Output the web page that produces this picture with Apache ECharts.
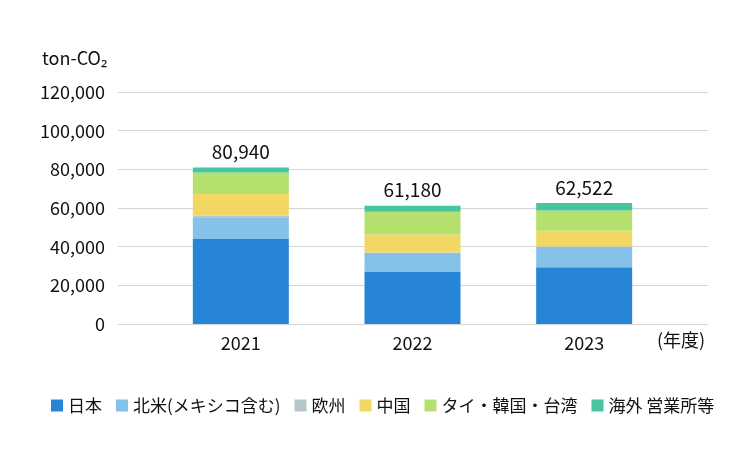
<!DOCTYPE html>
<html>
<head>
<meta charset="utf-8">
<script src="https://cdn.jsdelivr.net/npm/echarts@6/dist/echarts.min.js"></script>
<style>html,body{margin:0;padding:0;background:#fff}#c{width:740px;height:460px}</style>
</head>
<body>
<div id="c"></div>
<script>
var categories = ['2021', '2022', '2023'];
var japan = [44000, 27100, 29300];
var northAmerica = [11200, 9800, 10700];
var europe = [900, 100, 100];
var china = [11200, 9300, 8100];
var asia = [11000, 11800, 10500];
var overseas = [2640, 3080, 3822];
var totals = [80940, 61180, 62522];
var seriesNames = ['日本', '北米(メキシコ含む)', '欧州', '中国', 'タイ・韓国・台湾', '海外 営業所等'];
var yTicks = [0, 20000, 40000, 60000, 80000, 100000, 120000];

var FONT = '"Noto Sans CJK JP", "Noto Sans", sans-serif';
var colors = ['#2785d8', '#85c1e8', '#b4c7cb', '#f2d862', '#b5e06e', '#46c59e'];
var seriesData = [japan, northAmerica, europe, china, asia, overseas];

function fmt(v) { return v.toLocaleString('en-US'); }

var series = seriesData.map(function (d, i) {
  var s = {
    name: seriesNames[i],
    type: 'bar',
    stack: 'total',
    xAxisIndex: 1,
    yAxisIndex: 1,
    barWidth: 96,
    data: d,
    itemStyle: { color: colors[i] },
    emphasis: { disabled: true }
  };
  if (i === seriesData.length - 1) {
    s.label = {
      show: true,
      position: 'top',
      distance: 6,
      fontSize: 19,
      fontFamily: FONT,
      color: '#111',
      formatter: function (p) { return fmt(totals[p.dataIndex]); }
    };
  }
  return s;
});

var chart = echarts.init(document.getElementById('c'), null, { renderer: 'canvas' });
chart.setOption({
  animation: false,
  backgroundColor: '#fff',
  title: {
    text: 'ton-CO₂',
    left: 37,
    top: 44,
    textStyle: { fontFamily: FONT, fontSize: 18, fontWeight: 'normal', color: '#111' }
  },
  legend: {
    data: seriesNames,
    left: 46,
    top: 392,
    itemWidth: 12,
    itemHeight: 12,
    itemGap: 14,
    icon: 'rect',
    textStyle: { fontFamily: FONT, fontSize: 17, color: '#111' }
  },
  graphic: [{
    type: 'text',
    left: 657,
    top: 331,
    style: { text: '(年度)', fontFamily: FONT, fontSize: 18, fill: '#111' }
  }],
  grid: [
    { left: 118, right: 32, top: 92, height: 232 },
    { left: 155, width: 515, top: 92, height: 232 }
  ],
  xAxis: [
    { type: 'category', gridIndex: 0, data: [''], show: false },
    {
      type: 'category', gridIndex: 1, data: categories,
      axisLine: { show: false }, axisTick: { show: false },
      axisLabel: { fontFamily: FONT, fontSize: 18, color: '#111', margin: 10 }
    }
  ],
  yAxis: [
    {
      type: 'value', gridIndex: 0, min: yTicks[0], max: yTicks[yTicks.length - 1], interval: 20000,
      axisLine: { show: false }, axisTick: { show: false },
      splitLine: { lineStyle: { color: '#d4d4d4', width: 1 } },
      axisLabel: { fontFamily: FONT, fontSize: 18, color: '#111', margin: 13, formatter: function (v) { return fmt(v); } }
    },
    {
      type: 'value', gridIndex: 1, min: yTicks[0], max: yTicks[yTicks.length - 1], interval: 20000,
      show: false, splitLine: { show: false }
    }
  ],
  series: series
});
</script>
</body>
</html>
